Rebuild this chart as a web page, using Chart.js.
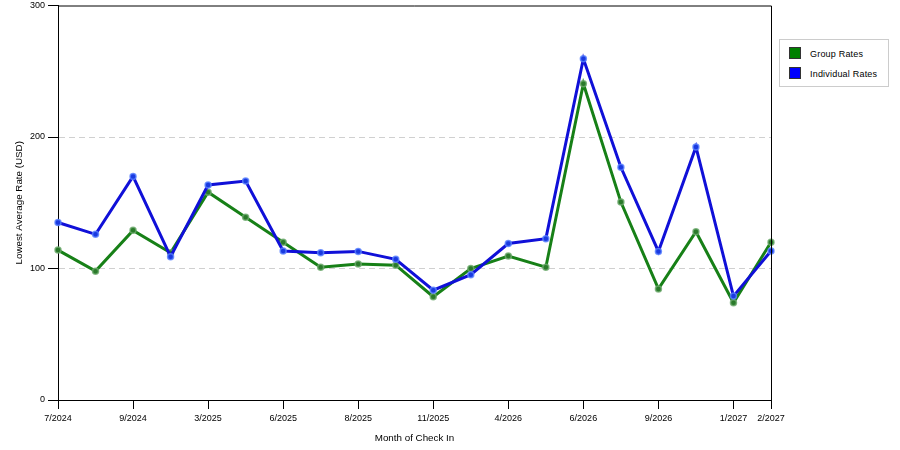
<!DOCTYPE html>
<html>
<head>
<meta charset="utf-8">
<script src="https://cdn.jsdelivr.net/npm/chart.js@4"></script>
<style>
  html, body { margin: 0; padding: 0; background: #fff; }
  #wrap { position: relative; width: 900px; height: 450px; }
  #legend { position: absolute; left: 779px; top: 39px; width: 108px; height: 46px; border: 1px solid #ccc; background: #fff;
            font-family: "Liberation Sans", Arial, sans-serif; font-size: 9px; letter-spacing: 0.2px; color: #000; }
  .li { position: absolute; left: 9px; height: 12px; line-height: 12px; }
  .sw { position: absolute; left: 0; top: 0; width: 12px; height: 12px; border: 1px solid #333; box-sizing: border-box; }
  .lt { position: absolute; left: 21px; top: 1px; white-space: nowrap; }
</style>
</head>
<body>
<div id="wrap">
  <canvas id="c" width="900" height="450"></canvas>
  <div id="legend">
    <div class="li" style="top:7px"><div class="sw" style="background:#008000"></div><div class="lt">Group Rates</div></div>
    <div class="li" style="top:27px"><div class="sw" style="background:#0000ff"></div><div class="lt">Individual Rates</div></div>
  </div>
</div>
<script>
const categories = ['7/2024','8/2024','9/2024','1/2025','3/2025','5/2025','6/2025','7/2025','8/2025','10/2025',
                    '11/2025','2/2026','4/2026','5/2026','6/2026','8/2026','9/2026','11/2026','1/2027','2/2027'];
const tickLabels = ['7/2024','','9/2024','','3/2025','','6/2025','','8/2025','',
                    '11/2025','','4/2026','','6/2026','','9/2026','','1/2027','2/2027'];
const groupRates = [114, 98, 129, 112, 158, 139, 120, 101, 103.5, 102.5, 78.5, 100, 109.5, 101, 240.5, 150.5, 84.5, 128, 74, 120];
const individualRates = [135, 126, 170, 109, 163.5, 166.5, 113.3, 112, 113, 107, 83.5, 95.3, 119, 122.7, 259.5, 177, 113, 192.4, 79, 113.3];
const yTicks = [0, 100, 200, 300];

const FONT = "'Liberation Sans', Arial, sans-serif";

const framePlugin = {
  id: 'frame',
  afterDatasetsDraw(chart) {
    const {ctx, chartArea: a} = chart;
    ctx.save();
    ctx.strokeStyle = '#000';
    ctx.lineWidth = 1;
    ctx.beginPath();
    ctx.moveTo(a.left, a.top + 0.5);
    ctx.lineTo(a.right + 0.5, a.top + 0.5);
    ctx.lineTo(a.right + 0.5, a.bottom);
    ctx.stroke();
    ctx.restore();
  }
};

new Chart(document.getElementById('c'), {
  type: 'line',
  data: {
    labels: categories,
    datasets: [
      {
        label: 'Group Rates',
        data: groupRates,
        borderColor: '#178017',
        backgroundColor: '#178017',
        borderWidth: 3,
        pointRadius: 3,
        pointBorderWidth: 1.5,
        pointBorderColor: 'rgba(110,170,110,0.8)',
        pointBackgroundColor: '#2a7a2a',
        tension: 0,
        order: 1
      },
      {
        label: 'Individual Rates',
        data: individualRates,
        borderColor: '#1010d8',
        backgroundColor: '#1010d8',
        borderWidth: 3,
        pointRadius: 3,
        pointBorderWidth: 1.5,
        pointBorderColor: 'rgba(90,130,255,0.8)',
        pointBackgroundColor: '#1a3ae0',
        tension: 0,
        order: 0
      }
    ]
  },
  options: {
    responsive: false,
    animation: false,
    devicePixelRatio: 1,
    layout: { padding: { left: 0, top: 5, right: 129, bottom: 0 } },
    plugins: { legend: { display: false }, tooltip: { enabled: false } },
    scales: {
      x: {
        type: 'category',
        offset: false,
        afterFit(scale) { scale.height = 50; scale.paddingLeft = 0; scale.paddingRight = 0; },
        grid: {
          drawOnChartArea: false,
          tickLength: 9,
          tickColor: ctx => (tickLabels[ctx.index] ? '#000' : 'rgba(0,0,0,0)')
        },
        border: { color: '#000', width: 1 },
        ticks: {
          autoSkip: false,
          maxRotation: 0,
          padding: 4,
          color: '#000',
          font: { family: FONT, size: 9 },
          callback: (v, i) => tickLabels[i]
        },
        title: {
          display: true,
          text: 'Month of Check In',
          color: '#000',
          font: { family: FONT, size: 9.8 },
          padding: { top: 0, bottom: 6 }
        }
      },
      y: {
        min: 0,
        max: 300,
        afterFit(scale) { scale.width = 58; scale.paddingTop = 0; scale.paddingBottom = 0; },
        afterBuildTicks(scale) { scale.ticks = yTicks.map(v => ({ value: v })); },
        grid: {
          color: ctx => (ctx.tick && (ctx.tick.value === 100 || ctx.tick.value === 200)) ? '#d0d0d0' : 'rgba(0,0,0,0)',
          tickColor: '#000',
          tickLength: 10,
          lineWidth: 1
        },
        border: { color: '#000', width: 1, dash: [6, 4] },
        ticks: {
          padding: 3,
          color: '#000',
          font: { family: FONT, size: 9 }
        },
        title: {
          display: true,
          text: 'Lowest Average Rate (USD)',
          color: '#000',
          font: { family: FONT, size: 9.8 },
          padding: { top: 13, bottom: 0 }
        }
      }
    }
  },
  plugins: [framePlugin]
});
</script>
</body>
</html>
